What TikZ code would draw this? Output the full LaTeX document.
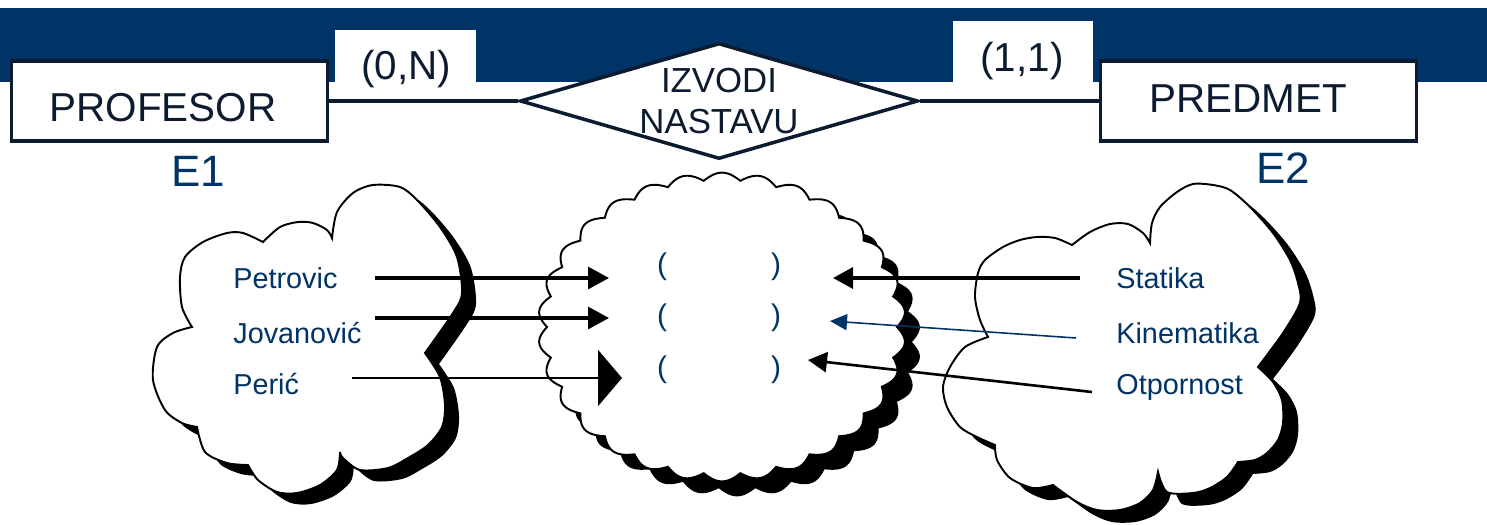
\documentclass[tikz,border=0pt]{standalone}
\usepackage{fontspec}
\setmainfont{Liberation Sans}
\usetikzlibrary{arrows.meta,shapes.geometric}
\definecolor{band}{RGB}{0,51,102}
\definecolor{ink}{RGB}{12,27,48}
\definecolor{nameblue}{RGB}{0,51,102}

% entity set E1: professors
\def\cloudleft{plot[smooth] coordinates {(332,238) (337,212) (353,193) (373,185) (400,187) (417,200) (440,227) (457,257) (462,293) (453,313) (425,353)}
 -- plot[smooth] coordinates {(425,353) (440,377) (445,405) (442,427) (428,445) (408,458) (388,468) (360,470) (343,458) (340,452)}
 -- plot[smooth] coordinates {(340,452) (337,470) (320,485) (297,493) (277,492) (258,480) (248,465)}
 -- plot[smooth] coordinates {(248,465) (227,463) (205,452) (197,427)}
 -- plot[smooth] coordinates {(197,427) (182,423) (165,410) (153,380) (157,347) (173,333) (192,327)}
 -- plot[smooth] coordinates {(192,327) (182,307) (180,277) (185,257) (203,242) (227,233) (243,233) (263,242)}
 -- plot[smooth] coordinates {(263,242) (280,227) (298,222) (313,223) (327,230) (332,238)} -- cycle}

% entity set E2: courses
\def\cloudright{plot[smooth] coordinates {(1150,243) (1152,223) (1160,207) (1177,192) (1193,184) (1213,185) (1230,190) (1250,207) (1273,233) (1290,260) (1298,283) (1300,303) (1283,333) (1258,367)}
 -- plot[smooth] coordinates {(1258,367) (1273,382) (1282,400) (1283,423) (1278,440) (1267,453) (1255,460) (1238,462)}
 -- plot[smooth] coordinates {(1238,462) (1227,477) (1210,488) (1193,493) (1167,492) (1158,472)}
 -- plot[smooth] coordinates {(1158,472) (1153,490) (1140,503) (1120,510) (1097,510) (1077,502) (1053,485)}
 -- plot[smooth] coordinates {(1053,485) (1033,488) (1010,478) (997,460) (995,445)}
 -- plot[smooth] coordinates {(995,445) (977,437) (960,427) (947,407) (943,387) (950,367) (965,347) (988,337)}
 -- plot[smooth] coordinates {(988,337) (980,320) (975,297) (978,273) (985,260) (1003,247) (1020,240) (1037,237) (1055,238) (1072,245)}
 -- plot[smooth] coordinates {(1072,245) (1090,232) (1110,224) (1128,224) (1143,233) (1150,243)} -- cycle}

% relationship set: scalloped oval
\def\cloudmid{plot[domain=0:360,samples=721,variable=\t]
  ({722+175*(1+0.05*abs(sin(15*\t)))*cos(\t)},{327+147*(1+0.05*abs(sin(15*\t)))*sin(\t)}) -- cycle}

\begin{document}
\begin{tikzpicture}[x=0.02cm,y=-0.02cm,
  entity/.style={draw=ink,line width=2.2pt,fill=white,inner sep=0pt,
    minimum width=6.32cm,minimum height=1.6cm},
  etext/.style={text=ink,inner sep=0pt,font=\fontsize{23}{27}\selectfont},
  rel/.style={diamond,draw=ink,line width=2pt,fill=white,inner sep=0pt,
    aspect=3.37,minimum width=7.96cm,minimum height=2.32cm,align=center,
    text=ink,font=\fontsize{19.8}{23.8}\selectfont},
  conn/.style={draw=ink,line width=1.8pt},
  card/.style={text=ink,inner sep=0pt,font=\fontsize{23}{27}\selectfont},
  ename/.style={text=nameblue,inner sep=0pt,font=\fontsize{25}{30}\selectfont},
  member/.style={text=nameblue,inner sep=0pt,anchor=base west,font=\fontsize{16.4}{19}\selectfont},
  paren/.style={text=nameblue,inner sep=0pt,font=\fontsize{17}{20}\selectfont},
  arr/.style={line width=1.8pt,-{Triangle[length=0.42cm,width=0.44cm]}},
  cloudline/.style={draw=black,line width=1.1pt,fill=white}]
\useasboundingbox (0,0) rectangle (1487,524);

% header band and white patches behind the cardinalities
\fill[band] (0,8) rectangle (1487,82);
\fill[white] (335,30) rectangle (476,83);
\fill[white] (953,21) rectangle (1093,83);

% ER diagram
\node[entity] (prof) at (169.5,101) {};
\node[entity] (pred) at (1258.5,101) {};
\node[rel] (rel) at (719,101) {IZVODI\\NASTAVU};
\draw[conn] (prof.east) -- (rel.west);
\draw[conn] (rel.east) -- (pred.west);
\node[etext] (proftxt) at (163,108) {PROFESOR};
\node[etext] (predtxt) at (1248,99) {PREDMET};
\node[card] (cardA) at (406,69) {(0,N)};
\node[card] (cardB) at (1022,61) {(1,1)};
\node[ename] (e1) at (198,171) {E1};
\node[ename] (e2) at (1283,168) {E2};

% clouds with their drop shadows
\fill[black,shift={(14,11)}] \cloudleft;
\path[cloudline] \cloudleft;
\fill[black,shift={(15,12)}] \cloudright;
\path[cloudline] \cloudright;
\fill[black,shift={(15,15)}] \cloudmid;
\path[cloudline] \cloudmid;

% members of E1
\node[member] (pet) at (233,288) {Petrovic};
\node[member] (jov) at (233,343) {Jovanović};
\node[member] (per) at (233,394) {Perić};

% members of E2
\node[member] (sta) at (1116,288) {Statika};
\node[member] (kin) at (1116,343) {Kinematika};
\node[member] (otp) at (1116,394) {Otpornost};

% pairs of the relationship
\node[paren] (p1l) at (662,267) {(};
\node[paren] (p1r) at (776,267) {)};
\node[paren] (p2l) at (662,318) {(};
\node[paren] (p2r) at (776,318) {)};
\node[paren] (p3l) at (662,370) {(};
\node[paren] (p3r) at (776,370) {)};

% arrow end points
\coordinate (petS) at (375,278);
\coordinate (petE) at (609,278);
\coordinate (jovS) at (375,318);
\coordinate (jovE) at (609,318);
\coordinate (perS) at (352,378);
\coordinate (perE) at (622,378);
\coordinate (staS) at (1080,278);
\coordinate (staE) at (833,278);
\coordinate (kinS) at (1076,338);
\coordinate (kinE) at (830,321);
\coordinate (otpS) at (1092,392);
\coordinate (otpE) at (808,360);

\draw[arr] (petS) -- (petE);
\draw[arr] (jovS) -- (jovE);
\draw[line width=1.5pt,-{Triangle[length=0.48cm,width=1.12cm]}] (perS) -- (perE);
\draw[line width=1.8pt,-{Triangle[length=0.4cm,width=0.42cm]}] (staS) -- (staE);
\draw[draw=nameblue,fill=nameblue,line width=0.9pt,-{Triangle[length=0.34cm,width=0.32cm]}] (kinS) -- (kinE);
\draw[line width=1.5pt,-{Triangle[length=0.38cm,width=0.4cm]}] (otpS) -- (otpE);
\end{tikzpicture}
\end{document}
